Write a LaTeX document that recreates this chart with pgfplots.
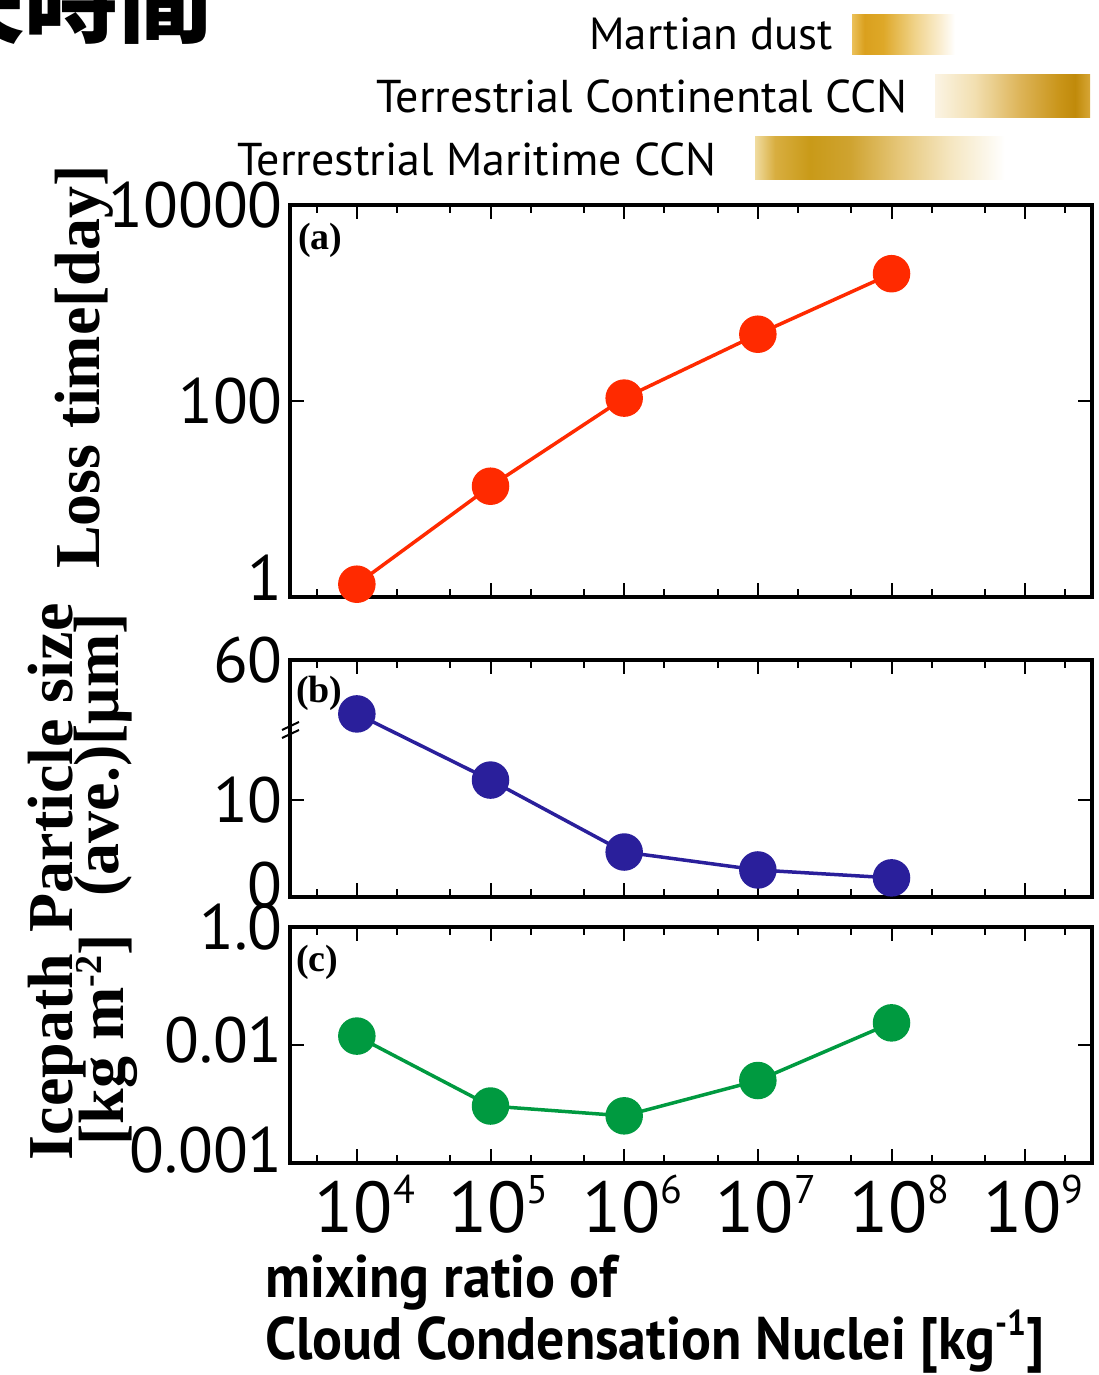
\documentclass[border=0pt]{standalone}
\usepackage{pgfplots}
\pgfplotsset{compat=1.18}
\usepackage{fontspec}
\setmainfont{Liberation Serif}
\newfontfamily\numfont{PT Sans}
\newfontfamily\cjk{Noto Sans CJK JP}

\definecolor{cred}{HTML}{FF2A00}
\definecolor{cblue}{HTML}{2A1F9B}
\definecolor{cgreen}{HTML}{009A40}

\pgfdeclarehorizontalshading{martian}{100bp}{color(0bp)=(white); color(24.9bp)=(white);
 color(25bp)=({rgb,255:red,235;green,193;blue,90}); color(31bp)=({rgb,255:red,218;green,160;blue,30});
 color(40bp)=({rgb,255:red,222;green,168;blue,40}); color(55.6bp)=({rgb,255:red,240;green,211;blue,138});
 color(67.7bp)=({rgb,255:red,250;green,237;blue,208}); color(75bp)=(white); color(100bp)=(white)}
\pgfdeclarehorizontalshading{continental}{100bp}{color(0bp)=(white); color(25bp)=({rgb,255:red,251;green,244;blue,228});
 color(37.9bp)=({rgb,255:red,242;green,223;blue,176}); color(52.4bp)=({rgb,255:red,221;green,180;blue,88});
 color(65.3bp)=({rgb,255:red,201;green,148;blue,24}); color(70.2bp)=({rgb,255:red,192;green,138;blue,10});
 color(75bp)=({rgb,255:red,214;green,166;blue,54}); color(100bp)=({rgb,255:red,214;green,166;blue,54})}
\pgfdeclarehorizontalshading{maritime}{100bp}{color(0bp)=(white); color(25bp)=({rgb,255:red,240;green,220;blue,160});
 color(29bp)=({rgb,255:red,216;green,174;blue,64}); color(36bp)=({rgb,255:red,201;green,154;blue,24});
 color(44bp)=({rgb,255:red,207;green,163;blue,48}); color(54bp)=({rgb,255:red,230;green,199;blue,122});
 color(64bp)=({rgb,255:red,245;green,230;blue,192}); color(75bp)=(white); color(100bp)=(white)}

\newcommand\sups[1]{\raisebox{29pt}{\fontsize{40}{40}\selectfont #1}}

\pgfplotsset{
  panel/.style={
    scale only axis, width=802pt,
    axis line style={line width=3.5pt},
    tick style={line width=2pt, black},
    major tick length=14pt, minor tick length=8pt,
    xtick={1e4,1e5,1e6,1e7,1e8,1e9},
    minor xtick={5e3,2e4,5e4,2e5,5e5,2e6,5e6,2e7,5e7,2e8,5e8,2e9},
    xticklabel=\empty,
    yticklabel style={font=\numfont\fontsize{64}{64}\selectfont, inner sep=0pt, xshift=-7pt, anchor=east},
    minor y tick style={draw=none},
    clip=false,
  },
}

\begin{document}
\begin{tikzpicture}[x=1pt,y=1pt]
\useasboundingbox (0,0) rectangle (1099,1375);

% Panel (a)
\begin{axis}[xmode=log, ymode=log, xmin=3162.2777, xmax=3162277660, panel,
  at={(290pt,778pt)}, anchor=south west, height=392pt,
  ymin=1, ymax=10000, ytick={1,100,10000},
  yticklabels={\raisebox{38pt}{1},100,10000}]
\addplot[cred, line width=3.5pt, mark=*, mark size=17pt, mark options={draw=cred, fill=cred}]
  coordinates {(1e4,1.35) (1e5,13.5) (1e6,107) (1e7,480) (1e8,1990)};
\node[anchor=north west, inner sep=0pt, font=\bfseries\fontsize{38}{38}\selectfont] at (rel axis cs:0,1) [xshift=8pt, yshift=-18pt] {(a)};
\end{axis}

% Panel (b)
\begin{axis}[xmode=log, xmin=3162.2777, xmax=3162277660, panel,
  at={(290pt,478pt)}, anchor=south west, height=237pt,
  y coord trafo/.code={\pgfmathparse{sqrt(#1)}},
  y coord inv trafo/.code={\pgfmathparse{(#1)^2}},
  ymin=0, ymax=60, ytick={0,10,60},
  yticklabels={\raisebox{24pt}{0},10,60}]
\addplot[cblue, line width=3.5pt, mark=*, mark size=17pt, mark options={draw=cblue, fill=cblue}]
  coordinates {(1e4,35.8) (1e5,14.6) (1e6,2.16) (1e7,0.78) (1e8,0.39)};
\node[anchor=north west, inner sep=0pt, font=\bfseries\fontsize{38}{38}\selectfont] at (rel axis cs:0,1) [xshift=6pt, yshift=-16pt] {(b)};
\end{axis}

% Panel (c)
\begin{axis}[xmode=log, ymode=log, xmin=3162.2777, xmax=3162277660, panel,
  at={(290pt,212pt)}, anchor=south west, height=236pt,
  ymin=0.001, ymax=0.1, ytick={0.001,0.01,0.1},
  yticklabels={\raisebox{26pt}{0.001},\raisebox{10pt}{0.01},1.0},
  xticklabels={10\sups{4},10\sups{5},10\sups{6},10\sups{7},10\sups{8},10\sups{9}},
  xticklabel style={font=\numfont\fontsize{72}{72}\selectfont, inner sep=0pt, anchor=north, yshift=-12pt, xshift=8pt}]
\addplot[cgreen, line width=3.5pt, mark=*, mark size=17pt, mark options={draw=cgreen, fill=cgreen}]
  coordinates {(1e4,0.0119) (1e5,0.00304) (1e6,0.00251) (1e7,0.0050) (1e8,0.0154)};
\node[anchor=north west, inner sep=0pt, font=\bfseries\fontsize{38}{38}\selectfont] at (rel axis cs:0,1) [xshift=6pt, yshift=-18pt] {(c)};
\end{axis}

% axis break mark on panel (b)
\draw[line width=2pt] (282,645) -- (299,653);
\draw[line width=2pt] (282,637) -- (299,645);

% y labels
\node[rotate=90, anchor=base, inner sep=0pt, font=\bfseries\fontsize{64}{64}\selectfont] at (99,1008) {Loss time[day]};
\node[rotate=90, anchor=base, inner sep=0pt, font=\bfseries\fontsize{64}{64}\selectfont] at (72,607) {Particle size};
\node[rotate=90, anchor=base, inner sep=0pt, font=\bfseries\fontsize{64}{64}\selectfont] at (118,620) {(ave.)[μm]};
\node[rotate=90, anchor=base, inner sep=0pt, font=\bfseries\fontsize{64}{64}\selectfont] at (72,318) {Icepath};
\node[rotate=90, anchor=base, inner sep=0pt, font=\bfseries\fontsize{64}{64}\selectfont] at (123,335) {[kg m\raisebox{22pt}{\fontsize{38}{38}\selectfont -2}]};

% x label
\node[anchor=base west, inner sep=0pt, font=\numfont\bfseries\fontsize{60}{60}\selectfont] at (265,77) {\scalebox{0.93}[1]{mixing ratio of}};
\node[anchor=base west, inner sep=0pt, font=\numfont\bfseries\fontsize{60}{60}\selectfont] at (265,16) {\scalebox{0.93}[1]{Cloud Condensation Nuclei [kg\raisebox{24pt}{\fontsize{36}{36}\selectfont -1}]}};

% title fragment
\node[anchor=east, inner sep=0pt, font=\cjk\bfseries\fontsize{94}{94}\selectfont] at (213,1375) {損失時間};

% legend
\node[anchor=base east, inner sep=0pt, font=\numfont\fontsize{45}{45}\selectfont] at (833,1325) {Martian dust};
\node[anchor=base east, inner sep=0pt, font=\numfont\fontsize{46}{46}\selectfont] at (908,1262) {Terrestrial Continental CCN};
\node[anchor=base east, inner sep=0pt, font=\numfont\fontsize{46}{46}\selectfont] at (717,1199) {Terrestrial Maritime CCN};
\shade[shading=martian] (852,1320) rectangle (955,1360);
\shade[shading=continental] (935,1257) rectangle (1090,1300);
\shade[shading=maritime] (755,1195) rectangle (1005,1238);
\end{tikzpicture}
\end{document}
